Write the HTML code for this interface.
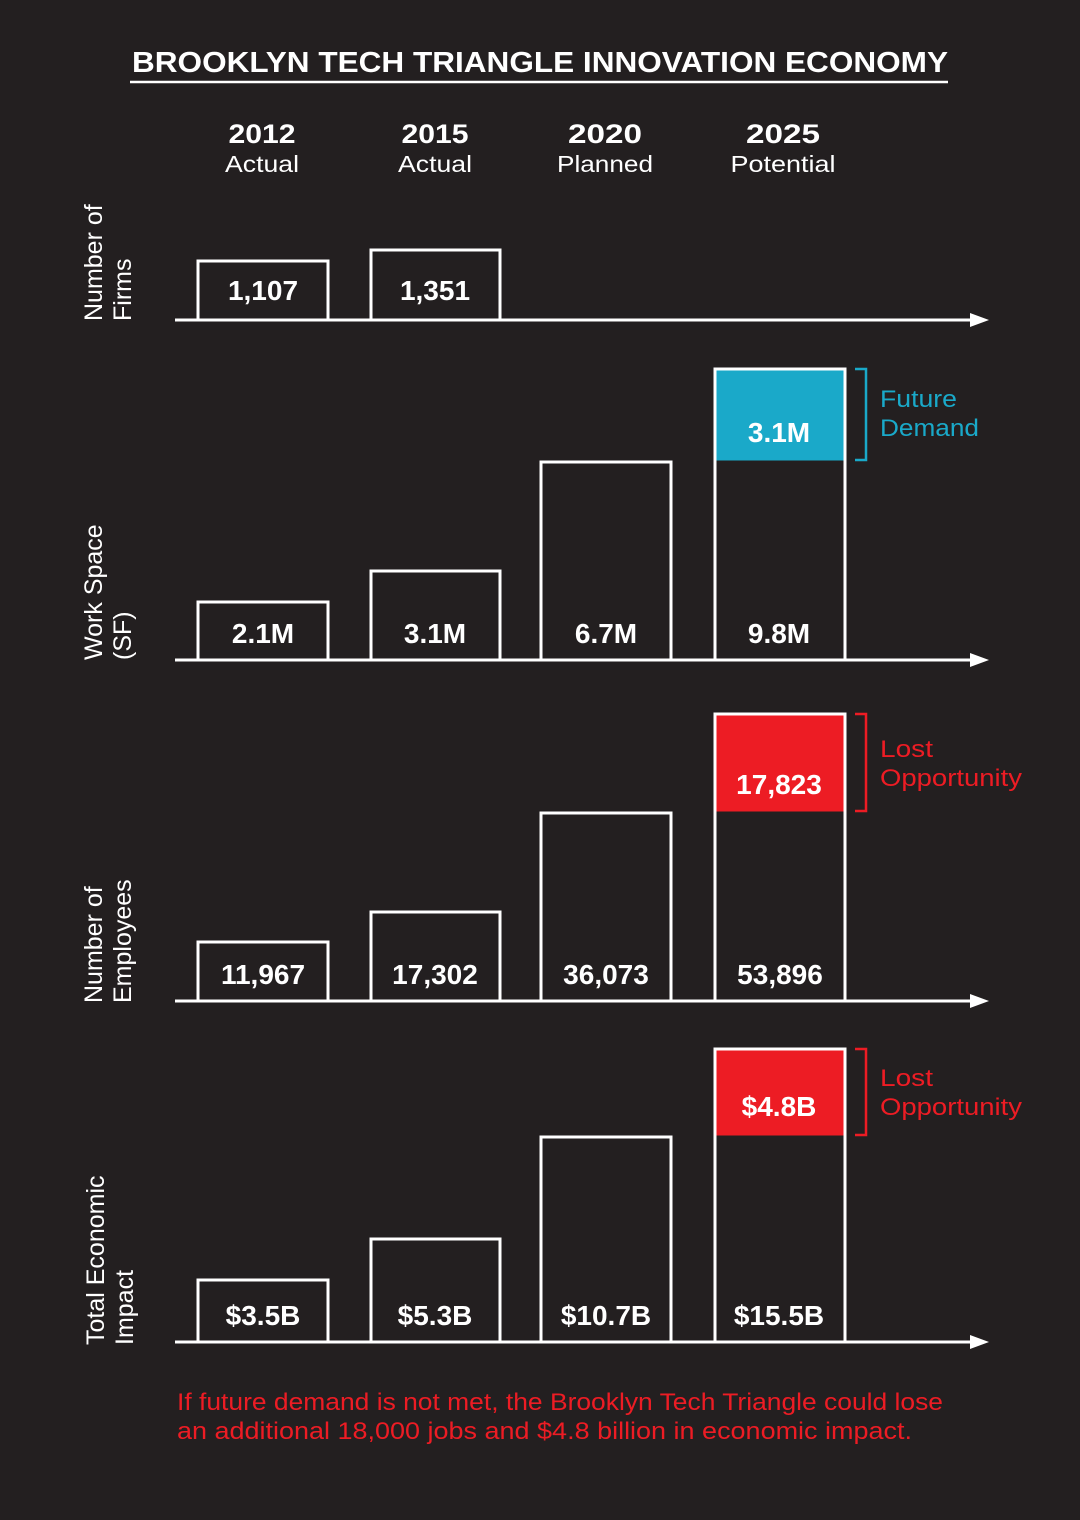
<!DOCTYPE html>
<html><head><meta charset="utf-8"><style>
html,body{margin:0;padding:0;background:#231f20;}
svg{display:block;}
text{font-family:"Liberation Sans",sans-serif;}
.v{font-size:28px;font-weight:bold;fill:#fff;text-anchor:middle;}
.y{font-size:25px;fill:#fff;}
</style></head><body>
<svg width="1080" height="1520" viewBox="0 0 1080 1520">
<rect width="1080" height="1520" fill="#231f20"/>
<text x="540" y="72" font-size="29" font-weight="bold" fill="#fff" text-anchor="middle" textLength="816" lengthAdjust="spacingAndGlyphs">BROOKLYN TECH TRIANGLE INNOVATION ECONOMY</text>
<line x1="130" y1="82" x2="948" y2="82" stroke="#fff" stroke-width="2.5"/>
<g fill="#fff" text-anchor="middle">
<text x="262" y="143" font-size="27" font-weight="bold" textLength="67" lengthAdjust="spacingAndGlyphs">2012</text><text x="262" y="172" font-size="23" textLength="74" lengthAdjust="spacingAndGlyphs">Actual</text>
<text x="435" y="143" font-size="27" font-weight="bold" textLength="67" lengthAdjust="spacingAndGlyphs">2015</text><text x="435" y="172" font-size="23" textLength="74" lengthAdjust="spacingAndGlyphs">Actual</text>
<text x="605" y="143" font-size="27" font-weight="bold" textLength="74" lengthAdjust="spacingAndGlyphs">2020</text><text x="605" y="172" font-size="23" textLength="96" lengthAdjust="spacingAndGlyphs">Planned</text>
<text x="783" y="143" font-size="27" font-weight="bold" textLength="74" lengthAdjust="spacingAndGlyphs">2025</text><text x="783" y="172" font-size="23" textLength="105" lengthAdjust="spacingAndGlyphs">Potential</text>
</g>
<g fill="none" stroke="#fff" stroke-width="3">
<rect x="198" y="261" width="130" height="59"/>
<rect x="371" y="250" width="129" height="70"/>
<rect x="198" y="602" width="130" height="58"/>
<rect x="371" y="571" width="129" height="89"/>
<rect x="541" y="462" width="130" height="198"/>
<rect x="715" y="369" width="130" height="291"/>
<rect x="198" y="942" width="130" height="59"/>
<rect x="371" y="912" width="129" height="89"/>
<rect x="541" y="813" width="130" height="188"/>
<rect x="715" y="714" width="130" height="287"/>
<rect x="198" y="1280" width="130" height="62"/>
<rect x="371" y="1239" width="129" height="103"/>
<rect x="541" y="1137" width="130" height="205"/>
<rect x="715" y="1049" width="130" height="293"/>
</g>
<rect x="716.5" y="370.5" width="127" height="90" fill="#1aa9c9"/>
<rect x="716.5" y="715.5" width="127" height="96" fill="#ed1c24"/>
<rect x="716.5" y="1050.5" width="127" height="85" fill="#ed1c24"/>
<g stroke="#fff" stroke-width="3">
<line x1="175" y1="320" x2="975" y2="320"/>
<line x1="175" y1="660" x2="975" y2="660"/>
<line x1="175" y1="1001" x2="975" y2="1001"/>
<line x1="175" y1="1342" x2="975" y2="1342"/>
</g>
<g fill="#fff">
<polygon points="970,313 989,320 970,327"/>
<polygon points="970,653 989,660 970,667"/>
<polygon points="970,994 989,1001 970,1008"/>
<polygon points="970,1335 989,1342 970,1349"/>
</g>
<text class="v" x="263" y="300">1,107</text>
<text class="v" x="435" y="300">1,351</text>
<text class="v" x="263" y="643">2.1M</text>
<text class="v" x="435" y="643">3.1M</text>
<text class="v" x="606" y="643">6.7M</text>
<text class="v" x="779" y="643">9.8M</text>
<text class="v" x="779" y="442">3.1M</text>
<text class="v" x="263" y="984">11,967</text>
<text class="v" x="435" y="984">17,302</text>
<text class="v" x="606" y="984">36,073</text>
<text class="v" x="780" y="984">53,896</text>
<text class="v" x="779" y="794">17,823</text>
<text class="v" x="263" y="1325">$3.5B</text>
<text class="v" x="435" y="1325">$5.3B</text>
<text class="v" x="606" y="1325">$10.7B</text>
<text class="v" x="779" y="1325">$15.5B</text>
<text class="v" x="779" y="1116">$4.8B</text>
<polyline points="855,369 866,369 866,460 855,460" fill="none" stroke="#1aa9c9" stroke-width="2.5"/>
<polyline points="855,714 866,714 866,811 855,811" fill="none" stroke="#ed1c24" stroke-width="2.5"/>
<polyline points="855,1049 866,1049 866,1135 855,1135" fill="none" stroke="#ed1c24" stroke-width="2.5"/>
<g font-size="24">
<text x="880" y="407" fill="#1aa9c9" textLength="77" lengthAdjust="spacingAndGlyphs">Future</text><text x="880" y="436" fill="#1aa9c9" textLength="99" lengthAdjust="spacingAndGlyphs">Demand</text>
<text x="880" y="757" fill="#ed1c24" textLength="53" lengthAdjust="spacingAndGlyphs">Lost</text><text x="880" y="786" fill="#ed1c24" textLength="142" lengthAdjust="spacingAndGlyphs">Opportunity</text>
<text x="880" y="1086" fill="#ed1c24" textLength="53" lengthAdjust="spacingAndGlyphs">Lost</text><text x="880" y="1115" fill="#ed1c24" textLength="142" lengthAdjust="spacingAndGlyphs">Opportunity</text>
</g>
<g>
<text class="y" transform="translate(102,321) rotate(-90)">Number of</text>
<text class="y" transform="translate(131,321) rotate(-90)">Firms</text>
<text class="y" transform="translate(102,660) rotate(-90)">Work Space</text>
<text class="y" transform="translate(131,660) rotate(-90)">(SF)</text>
<text class="y" transform="translate(102,1003) rotate(-90)">Number of</text>
<text class="y" transform="translate(131,1003) rotate(-90)">Employees</text>
<text class="y" transform="translate(104,1345) rotate(-90)">Total Economic</text>
<text class="y" transform="translate(133,1345) rotate(-90)">Impact</text>
</g>
<text x="177" y="1410" font-size="24" fill="#ed1c24" textLength="766" lengthAdjust="spacingAndGlyphs">If future demand is not met, the Brooklyn Tech Triangle could lose</text>
<text x="177" y="1439" font-size="24" fill="#ed1c24" textLength="735" lengthAdjust="spacingAndGlyphs">an additional 18,000 jobs and $4.8 billion in economic impact.</text>
</svg>
</body></html>
